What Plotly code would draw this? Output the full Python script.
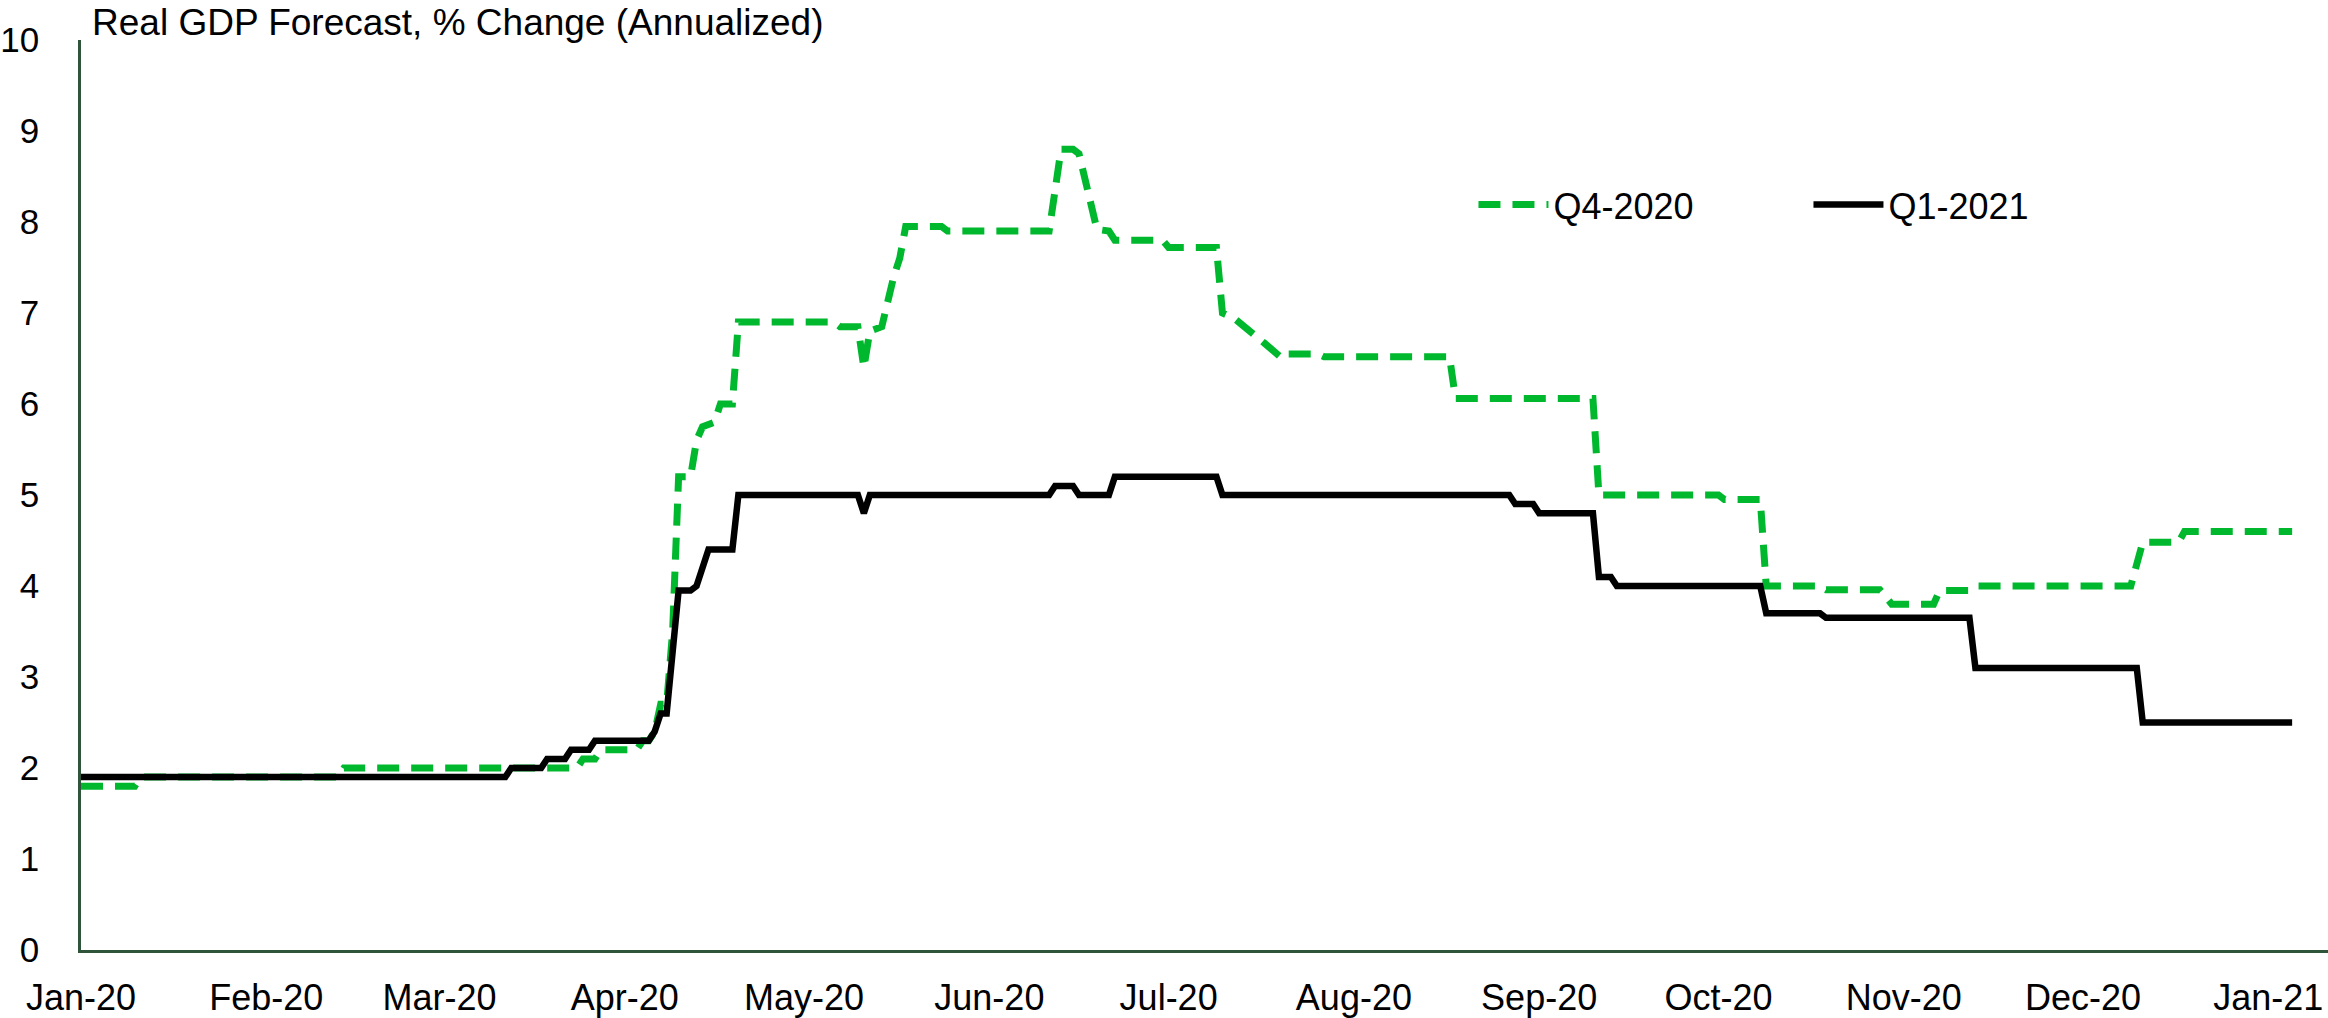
import plotly.graph_objects as go

# ---- data ----
q4_dates = ["2020-01-01", "2020-01-10", "2020-01-11", "2020-02-13", "2020-02-14", "2020-03-24",
            "2020-03-25", "2020-03-27", "2020-03-28", "2020-04-03", "2020-04-04", "2020-04-05",
            "2020-04-06", "2020-04-07", "2020-04-08", "2020-04-09", "2020-04-10", "2020-04-12",
            "2020-04-13", "2020-04-14", "2020-04-16", "2020-04-17", "2020-04-19", "2020-04-20",
            "2020-05-06", "2020-05-07", "2020-05-10", "2020-05-11", "2020-05-12", "2020-05-14",
            "2020-05-16", "2020-05-17", "2020-05-18", "2020-05-24", "2020-05-25", "2020-06-11",
            "2020-06-13", "2020-06-15", "2020-06-16", "2020-06-19", "2020-06-21", "2020-06-22",
            "2020-06-30", "2020-07-01", "2020-07-09", "2020-07-10", "2020-07-12", "2020-07-14",
            "2020-07-17", "2020-07-20", "2020-07-21", "2020-07-26", "2020-07-27", "2020-08-17",
            "2020-08-18", "2020-09-10", "2020-09-11", "2020-10-01", "2020-10-02", "2020-10-08",
            "2020-10-09", "2020-10-18", "2020-10-19", "2020-10-28", "2020-10-30", "2020-11-06",
            "2020-11-07", "2020-11-12", "2020-11-13", "2020-12-09", "2020-12-11", "2020-12-17",
            "2020-12-18", "2021-01-05"]
q4_values = [1.8, 1.8, 1.9, 1.9, 2.0, 2.0,
             2.1, 2.1, 2.2, 2.2, 2.3, 2.3,
             2.4, 2.7, 2.7, 3.5, 5.2, 5.2,
             5.6, 5.75, 5.8, 6.0, 6.0, 6.9,
             6.9, 6.85, 6.85, 6.4, 6.8, 6.85,
             7.4, 7.6, 7.95, 7.95, 7.9, 7.9,
             8.8, 8.8, 8.75, 7.92, 7.9, 7.8,
             7.8, 7.72, 7.72, 7.0, 6.94, 6.84,
             6.67, 6.5, 6.55, 6.55, 6.52, 6.52,
             6.06, 6.06, 5.0, 5.0, 4.95, 4.95,
             4.0, 4.0, 3.96, 3.96, 3.8, 3.8,
             3.95, 3.95, 4.0, 4.0, 4.48, 4.48,
             4.6, 4.6]

q1_dates = ["2020-01-01", "2020-03-12", "2020-03-13", "2020-03-18", "2020-03-19", "2020-03-22",
            "2020-03-23", "2020-03-26", "2020-03-27", "2020-04-05", "2020-04-06", "2020-04-07",
            "2020-04-08", "2020-04-09", "2020-04-10", "2020-04-12", "2020-04-13", "2020-04-15",
            "2020-04-19", "2020-04-20", "2020-05-10", "2020-05-11", "2020-05-12", "2020-06-11",
            "2020-06-12", "2020-06-15", "2020-06-16", "2020-06-21", "2020-06-22", "2020-07-09",
            "2020-07-10", "2020-08-27", "2020-08-28", "2020-08-31", "2020-09-01", "2020-09-10",
            "2020-09-11", "2020-09-13", "2020-09-14", "2020-10-08", "2020-10-09", "2020-10-18",
            "2020-10-19", "2020-11-12", "2020-11-13", "2020-12-10", "2020-12-11", "2021-01-05"]
q1_values = [1.9, 1.9, 2.0, 2.0, 2.1, 2.1,
             2.2, 2.2, 2.3, 2.3, 2.4, 2.6,
             2.6, 3.2, 3.95, 3.95, 4.0, 4.4,
             4.4, 5.0, 5.0, 4.8, 5.0, 5.0,
             5.1, 5.1, 5.0, 5.0, 5.2, 5.2,
             5.0, 5.0, 4.9, 4.9, 4.8, 4.8,
             4.1, 4.1, 4.0, 4.0, 3.7, 3.7,
             3.65, 3.65, 3.1, 3.1, 2.5, 2.5]

series_names = ["Q4-2020", "Q1-2021"]
chart_title = "Real GDP Forecast, % Change (Annualized)"

FONT = "Liberation Sans, Arial, sans-serif"
GREEN = "#00B82E"
AXIS = "#2E5539"

fig = go.Figure()
fig.add_trace(go.Scatter(x=q4_dates, y=q4_values, mode="lines", name=series_names[0],
                         line=dict(color=GREEN, width=7, dash="22px,12px")))
fig.add_trace(go.Scatter(x=q1_dates, y=q1_values, mode="lines", name=series_names[1],
                         line=dict(color="black", width=6.5)))

fig.update_layout(
    width=2328, height=1018,
    margin=dict(l=76, r=0, t=40, b=67),
    paper_bgcolor="white", plot_bgcolor="white",
    font=dict(family=FONT, size=36, color="black"),
    title=dict(text=chart_title, x=92 / 2328, xanchor="left", xref="container",
               y=1 - 22 / 1018, yanchor="middle", yref="container",
               font=dict(family=FONT, size=37, color="black")),
    showlegend=True,
    legend=dict(orientation="h", x=0.6197, xanchor="left", y=0.819, yanchor="middle",
                font=dict(family=FONT, size=36, color="black"),
                itemwidth=70,
                entrywidth=250, entrywidthmode="pixels",
                bgcolor="rgba(0,0,0,0)", borderwidth=0),
)
fig.update_xaxes(type="date", range=["2020-01-01", "2021-01-11"],
                 tick0="2020-01-01", dtick="M1", tickformat="%b-%y",
                 showline=True, linecolor=AXIS, linewidth=2.5,
                 showgrid=False, zeroline=False, ticks="",
                 ticklabelstandoff=14,
                 tickfont=dict(family=FONT, size=36, color="black"))
fig.update_yaxes(range=[0, 10], dtick=1, tick0=0,
                 showline=True, linecolor=AXIS, linewidth=2.5,
                 showgrid=False, zeroline=False, ticks="",
                 ticklabelstandoff=32,
                 tickfont=dict(family=FONT, size=35, color="black"))

fig.write_html("out.html",
               config={"displayModeBar": False},
               post_script="document.body.style.margin='0px';document.body.style.overflow='hidden';")
